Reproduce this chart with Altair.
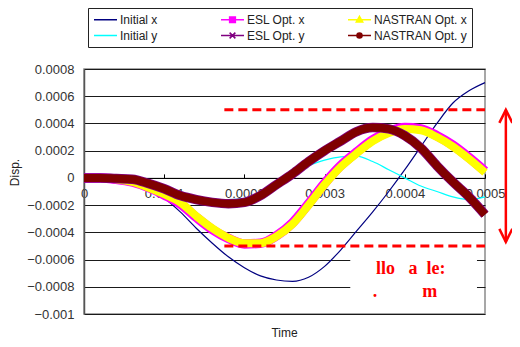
import altair as alt
import pandas as pd

# ---------------- data ----------------
time = [0.0, 0.00002, 0.00004, 0.00006, 0.00008, 0.0001, 0.00012, 0.00014, 0.00016, 0.00018,
        0.0002, 0.00022, 0.00024, 0.00026, 0.00028, 0.0003, 0.00032, 0.00034, 0.00036, 0.00038,
        0.0004, 0.00042, 0.00044, 0.00046, 0.00048, 0.0005]

initial_x = [0.0, 0.0, -0.00001, -0.00003, -0.00008, -0.00015, -0.00025, -0.00037, -0.00048, -0.00058,
             -0.00066, -0.00072, -0.00075, -0.00076, -0.00073, -0.00065, -0.00053, -0.00039, -0.00025, -0.0001,
             0.00006, 0.00023, 0.0004, 0.00055, 0.00064, 0.0007]
initial_y = [0.0, 0.0, -0.000005, -0.00002, -0.00004, -0.00007, -0.00011, -0.00014, -0.00016, -0.00016,
             -0.00015, -0.00011, -0.00004, 0.00004, 0.00009, 0.00013, 0.000155, 0.00016, 0.00012, 0.00006,
             0.0, -0.00006, -0.0001, -0.00014, -0.00016, -0.00014]
esl_x = [0.0, 0.0, -0.00001, -0.00003, -0.00007, -0.000125, -0.00019, -0.00029, -0.00038, -0.000445,
         -0.000485, -0.00048, -0.000425, -0.00033, -0.00019, -0.00004, 0.00009, 0.00019, 0.00028, 0.00034,
         0.00037, 0.00036, 0.00031, 0.00024, 0.00015, 0.00005]
nastran_x = [0.0, 0.0, -0.00001, -0.00003, -0.00007, -0.00012, -0.00018, -0.00028, -0.00037, -0.00044,
             -0.00048, -0.00048, -0.00043, -0.00034, -0.0002, -0.00005, 0.00008, 0.00018, 0.00027, 0.00033,
             0.00036, 0.00035, 0.0003, 0.00023, 0.00014, 0.00004]
esl_y = [0.0, 0.0, -0.000005, -0.00001, -0.00004, -0.00008, -0.00013, -0.00016, -0.00018, -0.00019,
         -0.00018, -0.00013, -0.00005, 0.00003, 0.00012, 0.0002, 0.00027, 0.00034, 0.00037, 0.00036,
         0.00031, 0.00022, 0.00009, -0.00003, -0.00014, -0.00027]
nastran_y = [0.0, 0.0, -0.000005, -0.00001, -0.00004, -0.00008, -0.00013, -0.00016, -0.00018, -0.00019,
             -0.00018, -0.00013, -0.00005, 0.00003, 0.00012, 0.0002, 0.00027, 0.00034, 0.00037, 0.00036,
             0.00031, 0.00022, 0.00009, -0.00003, -0.00014, -0.00027]

legend_order = ["Initial x", "ESL Opt. x", "NASTRAN Opt. x", "Initial y", "ESL Opt. y", "NASTRAN Opt. y"]
series_colors = ["#000080", "#FF00FF", "#FFFF00", "#00FFFF", "#800080", "#800000"]

x_ticks = [0.0, 0.0001, 0.0002, 0.0003, 0.0004, 0.0005]
y_ticks = [-0.001, -0.0008, -0.0006, -0.0004, -0.0002, 0.0, 0.0002, 0.0004, 0.0006, 0.0008]

# annotation values
limit_levels = [0.0005, -0.0005]
limit_start = 0.000175
limit_end = 0.0005
arrow_time = 0.000526
arrow_top = 0.0005
arrow_bottom = -0.00047
note_lines = ["llo\u00a0\u00a0\u00a0a\u00a0\u00a0le:", ".\u00a0\u00a0\u00a0\u00a0\u00a0\u00a0\u00a0\u00a0\u00a0\u00a0m"]
note_time = [0.000364, 0.00036]
note_disp = [-0.000672, -0.000835]
box_time = [0.000332, 0.00049]
box_disp = [-0.00052, -0.0009]

# ---------------- tables ----------------
series_values = {
    "Initial x": initial_x, "Initial y": initial_y,
    "ESL Opt. x": esl_x, "ESL Opt. y": esl_y,
    "NASTRAN Opt. x": nastran_x, "NASTRAN Opt. y": nastran_y,
}
rows = []
for name, vals in series_values.items():
    for t, v in zip(time, vals):
        rows.append({"time": t, "disp": v, "series": name})
df = pd.DataFrame(rows)

FONT = "Liberation Sans"

shape_expr = (
    "datum.value === 'ESL Opt. x' ? 'M-2,0H2M-0.5,-0.5H0.5V0.5H-0.5Z' : "
    "datum.value === 'ESL Opt. y' ? 'M-2,0H2M-0.5,-0.5L0.5,0.5M-0.5,0.5L0.5,-0.5' : "
    "datum.value === 'NASTRAN Opt. x' ? 'M-2,0H2M0,-0.6L0.56,0.4H-0.56Z' : "
    "datum.value === 'NASTRAN Opt. y' ? 'M-2,0H2M-0.45,0A0.45,0.45 0 1,0 0.45,0A0.45,0.45 0 1,0 -0.45,0Z' : "
    "'M-2,0H2'"
)

x_enc = alt.X(
    "time:Q",
    scale=alt.Scale(domain=[0, 0.0005], nice=False, zero=False),
    axis=alt.Axis(orient="top", offset={"expr": "-scale('y', 0)"}, values=x_ticks, tickCount=12,
                  format=".4~f",
                  title=None, grid=False, tickSize=4, tickColor="#000", domainColor="#000",
                  labelBaseline="top", labelPadding=-14, labelFlush=False, labelOverlap=False,
                  labelFont=FONT, labelFontSize=13, labelColor="#333"),
)
y_enc = alt.Y(
    "disp:Q",
    scale=alt.Scale(domain=[-0.001, 0.0008], nice=False, zero=False),
    axis=alt.Axis(values=y_ticks, tickCount=20, format=".4~f", title="Disp.", ticks=False,
                  labelPadding=10, labelOverlap=False,
                  grid=True, gridColor="#1a1a1a", gridWidth=1, domainColor="#555", domainWidth=1.5,
                  labelFont=FONT, labelFontSize=13, labelColor="#333",
                  titleFont=FONT, titleFontSize=12, titleFontWeight="normal", titleColor="#222",
                  titleAngle=270, titleX=-70, titleY=103, titleAlign="center", titleBaseline="middle"),
)
color_enc = alt.Color(
    "series:N",
    scale=alt.Scale(domain=legend_order, range=series_colors),
    legend=alt.Legend(
        title=None, orient="none", legendX=4, legendY=-61, columns=3, direction="horizontal",
        strokeColor="#222", fillColor="white", padding=5, cornerRadius=0,
        symbolSize=132, symbolStrokeWidth=1.5, symbolOffset=6,
        labelFont=FONT, labelFontSize=12, labelColor="#222",
        labelOffset=8, columnPadding=5, rowPadding=3, gridAlign="all", labelLimit=200,
        symbolType={"expr": shape_expr},
        symbolFillColor={"expr": "scale('color', datum.value)"},
    ),
)

base = alt.Chart(df).encode(x=x_enc, y=y_enc, color=color_enc)

draw = [("Initial x", 1.2), ("Initial y", 1.2), ("ESL Opt. x", 9.5), ("NASTRAN Opt. x", 8),
        ("ESL Opt. y", 9.5), ("NASTRAN Opt. y", 8)]
line_layers = [
    base.transform_filter(alt.datum.series == name).mark_line(strokeWidth=w, interpolate="monotone")
    for name, w in draw
]

limits_df = pd.DataFrame({"level": limit_levels, "t0": [limit_start] * 2, "t1": [limit_end] * 2})
limits = alt.Chart(limits_df).mark_rule(color="red", strokeWidth=3, strokeDash=[9, 5]).encode(
    x=alt.X("t0:Q"), x2="t1:Q", y=alt.Y("level:Q"))

box_df = pd.DataFrame({"t0": [box_time[0]], "t1": [box_time[1]], "v0": [box_disp[0]], "v1": [box_disp[1]]})
box = alt.Chart(box_df).mark_rect(color="white").encode(x="t0:Q", x2="t1:Q", y="v0:Q", y2="v1:Q")

note_df = pd.DataFrame({"t": note_time, "v": note_disp, "txt": note_lines})
notes = alt.Chart(note_df).mark_text(align="left", baseline="middle", font="Liberation Serif",
                                     fontWeight="bold", fontSize=18, color="red").encode(
    x="t:Q", y="v:Q", text="txt:N")

arrow_df = pd.DataFrame({"t": [arrow_time], "v0": [arrow_top], "v1": [arrow_bottom]})
arrow = alt.Chart(arrow_df).mark_rule(color="red", strokeWidth=2.5).encode(x="t:Q", y="v0:Q", y2="v1:Q")
heads_df = pd.DataFrame({"t": [arrow_time, arrow_time], "v": [arrow_top, arrow_bottom],
                         "dir": ["up", "down"]})
head_up = alt.Chart(heads_df).transform_filter(alt.datum.dir == "up").mark_point(
    shape="M-1,2L0,0L1,2", size=169, filled=False, color="red", strokeWidth=2.5, opacity=1
).encode(x="t:Q", y="v:Q")
head_down = alt.Chart(heads_df).transform_filter(alt.datum.dir == "down").mark_point(
    shape="M-1,-2L0,0L1,-2", size=169, filled=False, color="red", strokeWidth=2.5, opacity=1
).encode(x="t:Q", y="v:Q")

chart = alt.layer(
    *line_layers, box, limits, notes, arrow, head_up, head_down
).properties(
    width=401, height=245,
    padding={"left": 76, "top": 61, "right": 27, "bottom": 25},
    autosize=alt.AutoSizeParams(type="none"),
    title=alt.TitleParams("Time", orient="bottom", font=FONT, fontSize=12, fontWeight="normal",
                          color="#222", offset=7),
).configure_view(stroke="#8a8a8a", strokeWidth=1.5)

chart.save("out.html", embed_options={"renderer": "svg", "actions": False})
